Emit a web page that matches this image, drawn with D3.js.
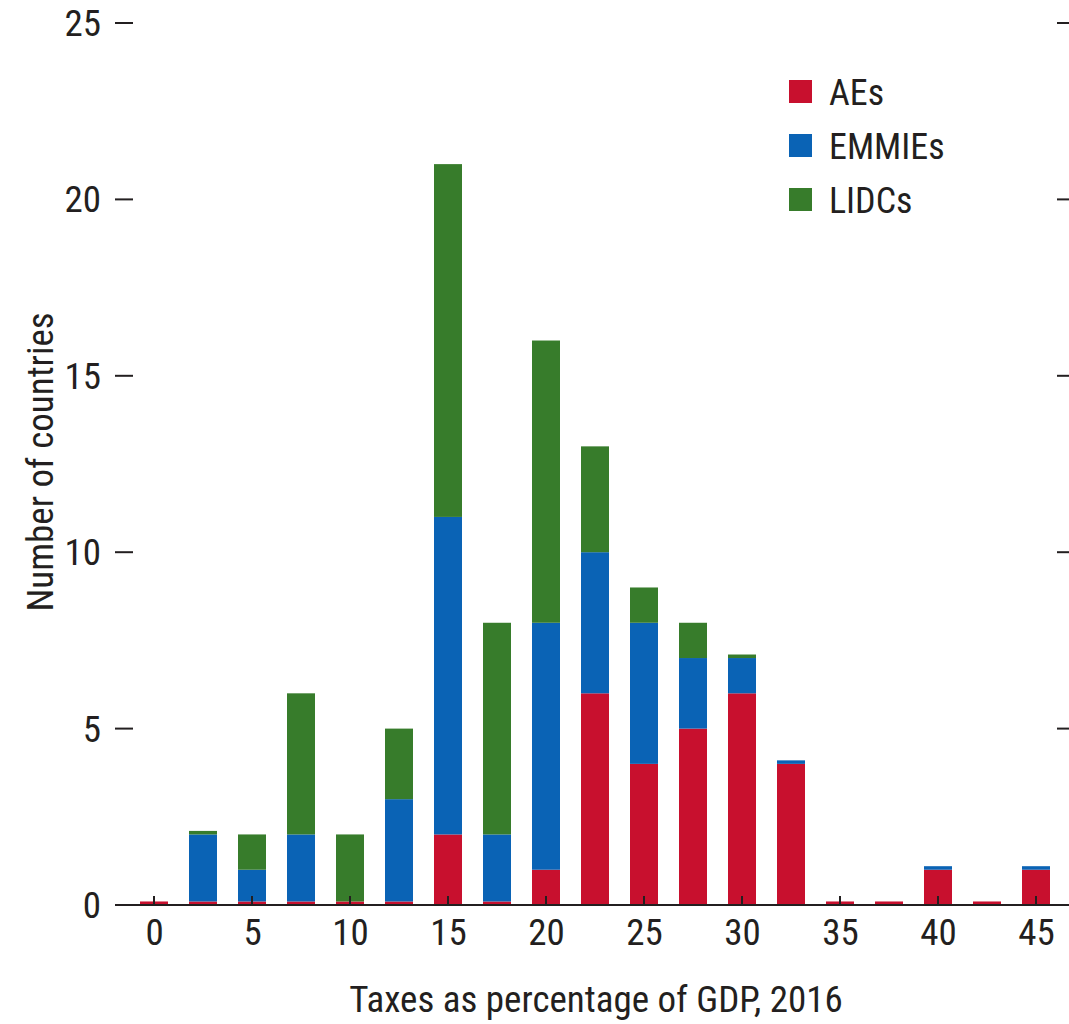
<!DOCTYPE html>
<html><head><meta charset="utf-8">
<script src="https://cdn.jsdelivr.net/npm/d3@7"></script>
<style>
html,body{margin:0;padding:0;background:#fff;}
text{font-family:"Liberation Sans Narrow","Arial Narrow","Roboto Condensed","Liberation Sans",sans-serif;fill:#231f20;}
</style></head>
<body>
<svg id="chart" width="1069" height="1024"></svg>
<script>
// Bin centres (taxes as % of GDP)
const bins = [0,2.5,5,7.5,10,12.5,15,17.5,20,22.5,25,27.5,30,32.5,35,37.5,40,42.5,45];
// Series segment heights (number of countries; thin 0.1 strips as drawn in the source)
const AEs    = [0.1,0.1,0.1,0.1,0.1,0.1,2,0.1,1,6,4,5,6,4,0.1,0.1,1,0.1,1];
const EMMIEs = [0,1.9,0.9,1.9,0,2.9,9,1.9,7,4,4,2,1,0.1,0,0,0.1,0,0.1];
const LIDCs  = [0,0.1,1,4,1.9,2,10,6,8,3,1,1,0.1,0,0,0,0,0,0];
const seriesNames = ["AEs","EMMIEs","LIDCs"];
const colors = ["#C8102E","#0A63B5","#377C2B"];
const xTicks = [0,5,10,15,20,25,30,35,40,45];
const yTicks = [0,5,10,15,20,25];
const xTitle = "Taxes as percentage of GDP, 2016";
const yTitle = "Number of countries";

const svg = d3.select("#chart");
const x = d3.scaleLinear().domain([0,45]).range([154,1036]);
const y = d3.scaleLinear().domain([0,25]).range([905,23]);
const barW = 28;

const table = bins.map((b,i)=>({bin:b,AEs:AEs[i],EMMIEs:EMMIEs[i],LIDCs:LIDCs[i]}));
const stacked = d3.stack().keys(seriesNames)(table);

const g = svg.append("g");
stacked.forEach((s,si)=>{
  g.selectAll(null).data(s.filter(d=>d[1]-d[0]>0)).enter().append("rect")
    .attr("x",d=>x(d.data.bin)-barW/2)
    .attr("width",barW)
    .attr("y",d=>y(d[1]))
    .attr("height",d=>y(d[0])-y(d[1]))
    .attr("fill",colors[si]);
});

// x axis line and inward ticks
svg.append("line").attr("x1",115).attr("x2",1069).attr("y1",y(0)).attr("y2",y(0))
  .attr("stroke","#231f20").attr("stroke-width",2);
const xAxis = d3.axisBottom(x).tickValues(xTicks).tickSize(0).tickPadding(14);
const xg = svg.append("g").attr("transform",`translate(0,${y(0)})`).call(xAxis);
xg.select(".domain").remove();
xg.selectAll("text").attr("font-size",37).style("font-family",null);
xTicks.forEach(t=>{
  svg.append("line").attr("x1",x(t)).attr("x2",x(t)).attr("y1",y(0)).attr("y2",y(0)-9)
    .attr("stroke","#231f20").attr("stroke-width",2);
});

// y axis left (ticks to the right of labels)
const yAxisL = d3.axisLeft(y).tickValues(yTicks).tickSize(0).tickPadding(0);
const ylg = svg.append("g").attr("transform","translate(101,0)").call(yAxisL);
ylg.select(".domain").remove();
ylg.selectAll("text").attr("font-size",37).attr("dy","0.34em").style("font-family",null);
yTicks.forEach(t=>{
  svg.append("line").attr("x1",115).attr("x2",133).attr("y1",y(t)).attr("y2",y(t))
    .attr("stroke","#231f20").attr("stroke-width",2);
  svg.append("line").attr("x1",1057).attr("x2",1069).attr("y1",y(t)).attr("y2",y(t))
    .attr("stroke","#231f20").attr("stroke-width",2);
});

// axis titles
svg.append("text").attr("x",596).attr("y",1012).attr("text-anchor","middle")
  .attr("font-size",37).text(xTitle);
svg.append("text").attr("transform","translate(53,462) rotate(-90)").attr("text-anchor","middle")
  .attr("font-size",37).text(yTitle);

// legend
const lg = svg.append("g").attr("transform","translate(789,80)");
seriesNames.forEach((n,i)=>{
  const row = lg.append("g").attr("transform",`translate(0,${i*54})`);
  row.append("rect").attr("width",23).attr("height",23).attr("fill",colors[i]);
  row.append("text").attr("x",40).attr("y",12).attr("dy","0.35em").attr("font-size",36).text(n);
});
</script>
</body></html>
